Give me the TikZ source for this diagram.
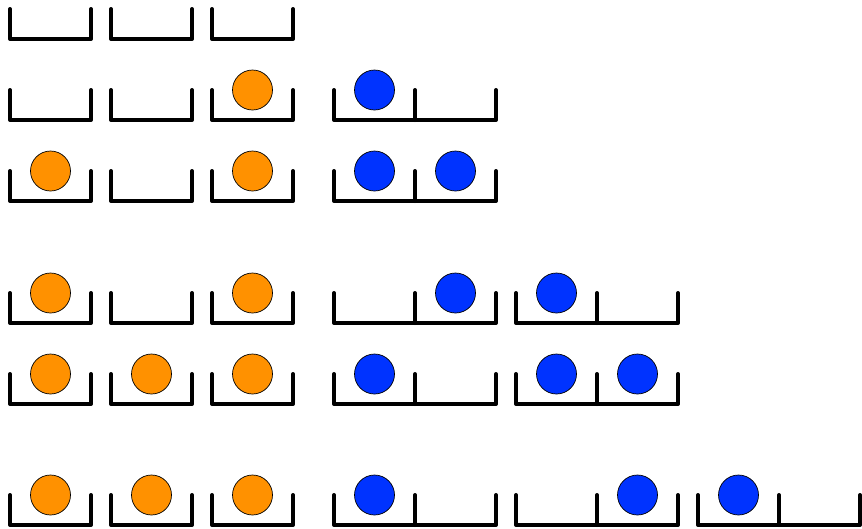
\documentclass[tikz,border=0pt]{standalone}
\definecolor{ballorange}{RGB}{255,145,0}
\definecolor{ballblue}{RGB}{0,51,255}
\tikzset{
  binline/.style={line width=4pt, line cap=round, line join=round},
  oball/.style={circle, draw=black, line width=0.7pt, fill=ballorange, minimum size=40pt, inner sep=0pt},
  bball/.style={circle, draw=black, line width=0.7pt, fill=ballblue, minimum size=40pt, inner sep=0pt}
}
\begin{document}
\begin{tikzpicture}[x=1pt,y=-1pt]
\useasboundingbox (0,0) rectangle (862,528);
% single bins: #1 = row top
\newcommand{\singlebins}[1]{%
  \foreach \xl in {10,111,212}{
    \draw[binline] (\xl,#1) -- (\xl,#1+30) -- (\xl+81,#1+30) -- (\xl+81,#1);
  }}
\newcommand{\doublebin}[2]{%
  \draw[binline] (#1,#2) -- (#1,#2+30) -- (#1+162,#2+30) -- (#1+162,#2);
  \draw[binline] (#1+81,#2) -- (#1+81,#2+30);}
% Row 1
\singlebins{9}
% Row 2
\singlebins{90}
\doublebin{334}{90}
\node[oball] (r2o3) at (252.5,90) {};
\node[bball] (r2b1) at (374.5,90) {};
% Row 3
\singlebins{171}
\doublebin{334}{171}
\node[oball] (r3o1) at (50.5,171) {};
\node[oball] (r3o3) at (252.5,171) {};
\node[bball] (r3b1) at (374.5,171) {};
\node[bball] (r3b2) at (455.5,171) {};
% Row 4
\singlebins{293}
\doublebin{334}{293}
\doublebin{516}{293}
\node[oball] (r4o1) at (50.5,293) {};
\node[oball] (r4o3) at (252.5,293) {};
\node[bball] (r4b2) at (455.5,293) {};
\node[bball] (r4b3) at (556.5,293) {};
% Row 5
\singlebins{374}
\doublebin{334}{374}
\doublebin{516}{374}
\node[oball] (r5o1) at (50.5,374) {};
\node[oball] (r5o2) at (151.5,374) {};
\node[oball] (r5o3) at (252.5,374) {};
\node[bball] (r5b1) at (374.5,374) {};
\node[bball] (r5b3) at (556.5,374) {};
\node[bball] (r5b4) at (637.5,374) {};
% Row 6
\singlebins{495}
\doublebin{334}{495}
\doublebin{516}{495}
\doublebin{698}{495}
\node[oball] (r6o1) at (50.5,495) {};
\node[oball] (r6o2) at (151.5,495) {};
\node[oball] (r6o3) at (252.5,495) {};
\node[bball] (r6b1) at (374.5,495) {};
\node[bball] (r6b4) at (637.5,495) {};
\node[bball] (r6b5) at (738.5,495) {};
\end{tikzpicture}
\end{document}
